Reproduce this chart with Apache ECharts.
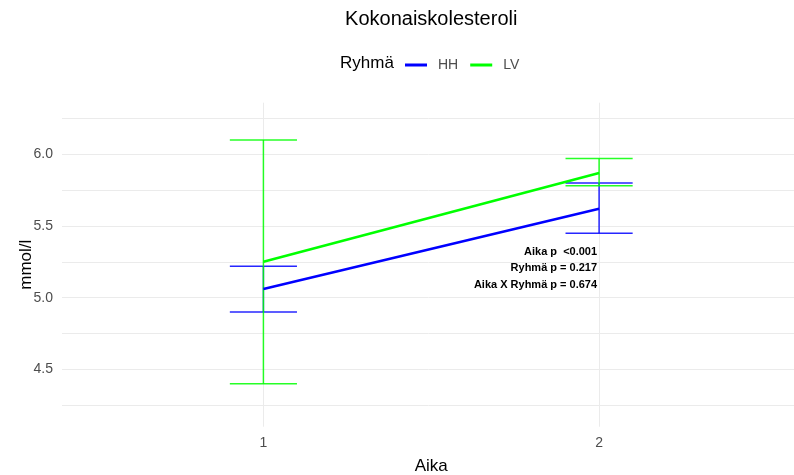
<!DOCTYPE html>
<html>
<head>
<meta charset="utf-8">
<title>Kokonaiskolesteroli</title>
<script src="https://cdn.jsdelivr.net/npm/echarts@6/dist/echarts.min.js"></script>
<style>
  html, body { margin: 0; padding: 0; background: #ffffff; }
  #chart { width: 794px; height: 475px; }
</style>
</head>
<body>
<div id="chart"></div>
<script>
// Measurement times (x axis)
const times = [1, 2];

// Group HH: mean and error-bar limits at each time
const hhMean = [5.06, 5.62];
const hhLow  = [4.90, 5.45];
const hhHigh = [5.22, 5.80];

// Group LV: mean and error-bar limits at each time
const lvMean = [5.25, 5.87];
const lvLow  = [4.40, 5.78];
const lvHigh = [6.10, 5.97];

// Axis ticks and grid positions
const xTicks = [1, 2];
const yTicks = [4.5, 5.0, 5.5, 6.0];
const yGrid  = [4.25, 4.5, 4.75, 5.0, 5.25, 5.5, 5.75, 6.0, 6.25];

// Model test results shown inside the panel
const statLines = ['Aika p  <0.001', 'Ryhmä p = 0.217', 'Aika X Ryhmä p = 0.674'];
const statY = [5.321, 5.205, 5.089];

const FONT = "'Liberation Sans', Arial, Helvetica, sans-serif";
const BLUE = '#0000ff';
const GREEN = '#00ff00';
const CAP = 0.1;

function pairs(xs, ys) { return xs.map((x, i) => [x, ys[i]]); }
function bars(xs, lo, hi) { return xs.map((x, i) => [x, lo[i], hi[i]]); }

function errorBarSeries(name, color, data) {
  return {
    name: name + ' virhe',
    type: 'custom',
    data: data,
    z: 2,
    silent: true,
    encode: { x: 0, y: [1, 2] },
    renderItem: function (params, api) {
      const x = api.value(0), lo = api.value(1), hi = api.value(2);
      const top = api.coord([x, hi]);
      const bot = api.coord([x, lo]);
      const tl = api.coord([x - CAP, hi]), tr = api.coord([x + CAP, hi]);
      const bl = api.coord([x - CAP, lo]), br = api.coord([x + CAP, lo]);
      const style = { stroke: color, lineWidth: 1.5, opacity: 0.85 };
      return {
        type: 'group',
        children: [
          { type: 'line', shape: { x1: top[0], y1: top[1], x2: bot[0], y2: bot[1] }, style: style },
          { type: 'line', shape: { x1: tl[0], y1: tl[1], x2: tr[0], y2: tr[1] }, style: style },
          { type: 'line', shape: { x1: bl[0], y1: bl[1], x2: br[0], y2: br[1] }, style: style }
        ]
      };
    }
  };
}

const chart = echarts.init(document.getElementById('chart'), null, { renderer: 'canvas' });

const option = {
  animation: false,
  backgroundColor: '#ffffff',
  textStyle: { fontFamily: FONT },
  legend: {
    data: ['HH', 'LV'],
    left: 400,
    top: 53,
    icon: 'rect',
    itemWidth: 22,
    itemHeight: 3,
    itemGap: 12,
    textStyle: { fontFamily: FONT, fontSize: 14, color: '#4d4d4d', padding: [0, 0, 0, 6] },
    selectedMode: false
  },
  grid: {
    left: 62,
    top: 102.7,
    width: 738.5,
    height: 324,
    containLabel: false,
    outerBoundsMode: 'none'
  },
  xAxis: {
    type: 'value',
    min: 0.4,
    max: 2.6,
    name: 'Aika',
    nameLocation: 'middle',
    nameGap: 31,
    nameMoveOverlap: false,
    nameTextStyle: { fontFamily: FONT, fontSize: 17, color: '#000000' },
    axisLine: { show: false },
    axisTick: { show: false, customValues: xTicks },
    axisLabel: {
      customValues: xTicks,
      margin: 9,
      fontFamily: FONT,
      fontSize: 14,
      color: '#4d4d4d'
    },
    splitLine: { show: true, lineStyle: { color: '#ebebeb', width: 1 } }
  },
  yAxis: {
    type: 'value',
    min: 4.1,
    max: 6.36,
    name: 'mmol/l',
    nameLocation: 'middle',
    nameGap: 27,
    nameRotate: 90,
    nameMoveOverlap: false,
    nameTextStyle: { fontFamily: FONT, fontSize: 17, color: '#000000' },
    axisLine: { show: false },
    axisTick: { show: false, customValues: yGrid },
    axisLabel: {
      customValues: yTicks,
      margin: 9,
      fontFamily: FONT,
      fontSize: 14,
      color: '#4d4d4d',
      formatter: function (v) { return v.toFixed(1); }
    },
    splitLine: { show: true, lineStyle: { color: '#ebebeb', width: 1 } }
  },
  series: [
    errorBarSeries('HH', BLUE, bars(times, hhLow, hhHigh)),
    errorBarSeries('LV', GREEN, bars(times, lvLow, lvHigh)),
    {
      name: 'HH',
      type: 'line',
      data: pairs(times, hhMean),
      showSymbol: false,
      symbol: 'none',
      z: 3,
      itemStyle: { color: BLUE },
      lineStyle: { color: BLUE, width: 2.5 }
    },
    {
      name: 'LV',
      type: 'line',
      data: pairs(times, lvMean),
      showSymbol: false,
      symbol: 'none',
      z: 3,
      itemStyle: { color: GREEN },
      lineStyle: { color: GREEN, width: 2.5 }
    }
  ]
};

chart.setOption(option);

// Title, legend heading and test results as positioned text
const panelLeft = chart.convertToPixel({ gridIndex: 0 }, [0.4, 6.36]);
const panelRight = chart.convertToPixel({ gridIndex: 0 }, [2.6, 6.36]);
const titleX = (panelLeft[0] + panelRight[0]) / 2;

const graphics = [
  {
    type: 'text',
    x: titleX,
    y: 19.5,
    style: {
      text: 'Kokonaiskolesteroli',
      fontFamily: FONT,
      fontSize: 20,
      fill: '#000000',
      textAlign: 'center',
      textVerticalAlign: 'middle'
    }
  },
  {
    type: 'text',
    x: 340,
    y: 63.5,
    style: {
      text: 'Ryhmä',
      fontFamily: FONT,
      fontSize: 17,
      fill: '#000000',
      textAlign: 'left',
      textVerticalAlign: 'middle'
    }
  }
];

statLines.forEach(function (line, i) {
  const p = chart.convertToPixel({ gridIndex: 0 }, [2, statY[i]]);
  graphics.push({
    type: 'text',
    x: p[0] - 2,
    y: p[1],
    style: {
      text: line,
      fontFamily: FONT,
      fontSize: 11,
      fontWeight: 'bold',
      fill: '#000000',
      textAlign: 'right',
      textVerticalAlign: 'middle'
    }
  });
});

chart.setOption({ graphic: graphics });
</script>
</body>
</html>
